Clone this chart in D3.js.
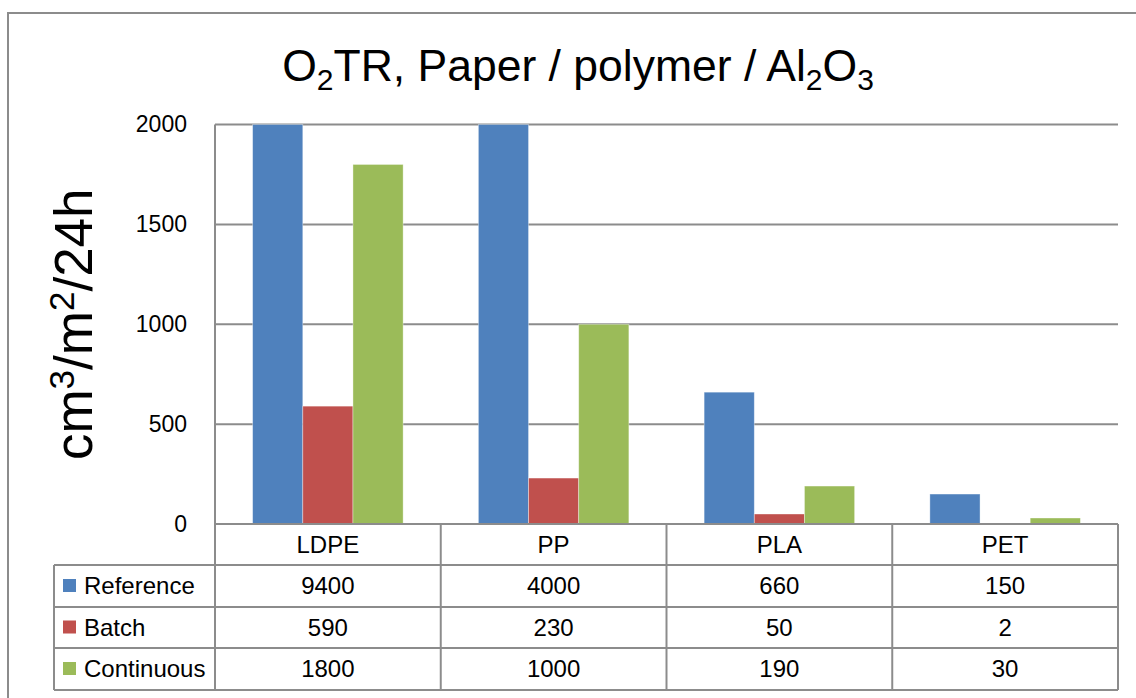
<!DOCTYPE html>
<html>
<head>
<meta charset="utf-8">
<script src="https://cdn.jsdelivr.net/npm/d3@7"></script>
<style>
  html, body { margin: 0; padding: 0; background: #fff; }
  svg { display: block; }
  text { font-family: "Liberation Sans", Arial, sans-serif; fill: #000; }
</style>
</head>
<body>
<svg id="chart" width="1136" height="698"></svg>
<script>
// O2 transmission rate per substrate and coating process
const categories = ["LDPE", "PP", "PLA", "PET"];
const seriesNames = ["Reference", "Batch", "Continuous"];
const seriesColors = ["#4F81BD", "#C0504D", "#9BBB59"];
const reference = [9400, 4000, 660, 150];
const batch = [590, 230, 50, 2];
const continuous = [1800, 1000, 190, 30];
const yTicks = [0, 500, 1000, 1500, 2000];

const seriesValues = [reference, batch, continuous];

const svg = d3.select("#chart");
const W = 1136, H = 698;
const plot = { left: 215, right: 1118, top: 124.5, bottom: 524 };
const tableLeft = 54;
const rowEdges = [524, 565, 607, 648, 690];
const lineColor = "#8c8c8c";

// outer chart frame (runs off the right and bottom edge)
svg.append("rect")
  .attr("x", 8).attr("y", 13)
  .attr("width", W + 20).attr("height", H + 20)
  .attr("fill", "#fff").attr("stroke", lineColor).attr("stroke-width", 2);

const x = d3.scaleBand().domain(categories).range([plot.left, plot.right]).paddingInner(0).paddingOuter(0);
// three bars share each band, with a 150% gap between groups
const inner = d3.scaleBand().domain(seriesNames).range([0, x.bandwidth()]).paddingInner(0).paddingOuter(0.75);
const y = d3.scaleLinear().domain([0, 2000]).range([plot.bottom, plot.top]).clamp(true);

// gridlines
svg.append("g")
  .selectAll("line")
  .data(yTicks.filter(d => d > 0))
  .join("line")
  .attr("x1", plot.left).attr("x2", plot.right)
  .attr("y1", d => y(d)).attr("y2", d => y(d))
  .attr("stroke", lineColor).attr("stroke-width", 2);

// y axis tick labels
const yAxis = d3.axisLeft(y).tickValues(yTicks).tickSize(0).tickPadding(28).tickFormat(d3.format("d"));
const yg = svg.append("g").attr("transform", `translate(${plot.left},0)`).call(yAxis);
yg.select(".domain").remove();
yg.selectAll("text").attr("font-size", 23).attr("font-family", "'Liberation Sans', Arial, sans-serif").attr("fill", "#000");

// bars
const groups = svg.append("g")
  .selectAll("g")
  .data(seriesNames.map((name, i) => ({ name, color: seriesColors[i], values: seriesValues[i] })))
  .join("g")
  .attr("fill", d => d.color);

groups.selectAll("rect")
  .data(s => s.values.map((v, j) => ({ name: s.name, cat: categories[j], value: v })))
  .join("rect")
  .attr("x", d => x(d.cat) + inner(d.name))
  .attr("width", inner.bandwidth())
  .attr("y", d => y(d.value))
  .attr("height", d => plot.bottom - y(d.value))
  .attr("stroke", "rgba(255,255,255,0.45)")
  .attr("stroke-width", 0.8);

// data table
const table = svg.append("g").attr("stroke", lineColor).attr("stroke-width", 2).attr("fill", "none");
// plot left edge down through the table
table.append("line").attr("x1", plot.left).attr("x2", plot.left).attr("y1", plot.top).attr("y2", rowEdges[4]);
table.append("line").attr("x1", plot.right).attr("x2", plot.right).attr("y1", rowEdges[0]).attr("y2", rowEdges[4]);
// category separators, with a short tick below the axis
categories.slice(1).forEach(c => {
  table.append("line").attr("x1", x(c)).attr("x2", x(c)).attr("y1", rowEdges[0]).attr("y2", rowEdges[4]);
});
// horizontal rules
table.append("line").attr("x1", plot.left).attr("x2", plot.right).attr("y1", rowEdges[0]).attr("y2", rowEdges[0]);
rowEdges.slice(1).forEach(r => {
  table.append("line").attr("x1", tableLeft).attr("x2", plot.right).attr("y1", r).attr("y2", r);
});
table.append("line").attr("x1", tableLeft).attr("x2", tableLeft).attr("y1", rowEdges[1]).attr("y2", rowEdges[4]);

// category header
svg.append("g").selectAll("text")
  .data(categories)
  .join("text")
  .attr("x", d => x(d) + x.bandwidth() / 2)
  .attr("y", (rowEdges[0] + rowEdges[1]) / 2 + 8)
  .attr("text-anchor", "middle")
  .attr("font-size", 24)
  .text(d => d);

// series rows
seriesNames.forEach((name, i) => {
  const top = rowEdges[i + 1], bot = rowEdges[i + 2];
  const mid = (top + bot) / 2;
  svg.append("rect")
    .attr("x", 63).attr("y", mid - 7).attr("width", 13).attr("height", 13)
    .attr("fill", seriesColors[i]);
  svg.append("text")
    .attr("x", 84).attr("y", mid + 8)
    .attr("font-size", 24)
    .text(name);
  svg.append("g").selectAll("text")
    .data(seriesValues[i])
    .join("text")
    .attr("x", (d, j) => x(categories[j]) + x.bandwidth() / 2)
    .attr("y", mid + 8)
    .attr("text-anchor", "middle")
    .attr("font-size", 24)
    .text(d => d);
});

// title with subscripts
const title = svg.append("text")
  .attr("x", 578).attr("y", 81)
  .attr("text-anchor", "middle")
  .attr("font-size", 44.5);
const sub = (t) => title.append("tspan").attr("font-size", 30).attr("dy", 9).text(t);
const norm = (t) => title.append("tspan").attr("dy", -9).text(t);
title.append("tspan").text("O");
sub("2");
norm("TR, Paper / polymer / Al");
sub("2");
norm("O");
sub("3");

// y axis title with superscripts
const yt = svg.append("text")
  .attr("transform", `translate(92,${(plot.top + plot.bottom) / 2}) rotate(-90)`)
  .attr("text-anchor", "middle")
  .attr("font-size", 53);
yt.append("tspan").text("cm");
yt.append("tspan").attr("font-size", 35).attr("dy", -18).text("3");
yt.append("tspan").attr("dy", 18).text("/m");
yt.append("tspan").attr("font-size", 35).attr("dy", -18).text("2");
yt.append("tspan").attr("dy", 18).text("/24h");
</script>
</body>
</html>
